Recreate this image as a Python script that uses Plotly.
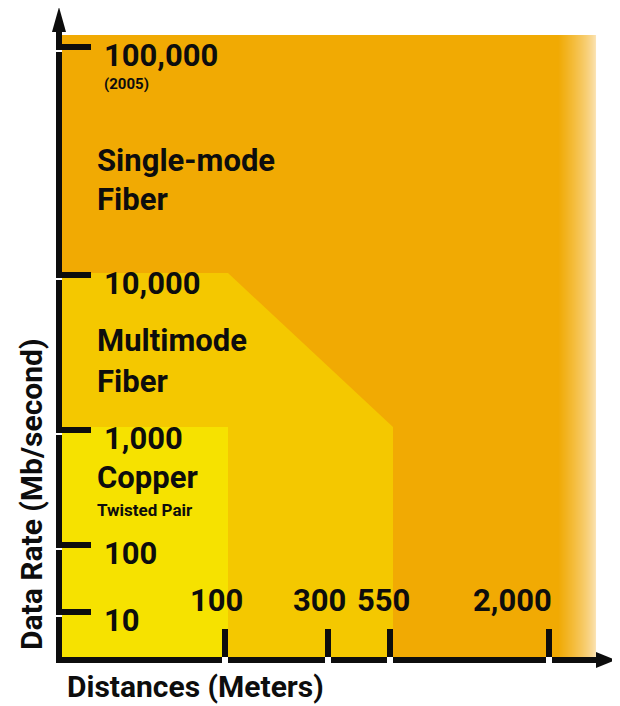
import plotly.graph_objects as go
import numpy as np

# ---------------- data ----------------
distances = [100, 300, 550, 2000]
distance_labels = ["100", "300", "550", "2,000"]
rates = [10, 100, 1000, 10000, 100000]
rate_labels = ["10", "100", "1,000", "10,000", "100,000"]
media = ["Copper", "Multimode", "Single-mode"]
media_subtitles = ["Twisted Pair", "Fiber", "Fiber"]
copper_max = {"rate": 1000, "distance": 100}
multimode_max = {"rate": 10000, "distance_at_max": 100, "rate_far": 1000, "distance_far": 550}
singlemode_max = {"rate": 100000, "distance": 2000}

# ---------------- schematic axis layout (non-metric diagram) ----------------
W, H = 620, 706
PAGE_MARGIN = 8  # default body margin of the html page
x_tick_pos = [225, 328, 390, 549]
y_tick_pos = [612, 545, 430, 275, 47]
X0, Y0 = 59, 660  # origin of the axes


def px(d):
    return x_tick_pos[distances.index(d)]


def py(r):
    return y_tick_pos[rates.index(r)]


ORANGE = "#F1AA03"
AMBER = "#F4C800"
YELLOW = "#F6E200"
INK = "#0d0d0d"
FONT = "Roboto, Liberation Sans, Arial, sans-serif"

shapes = []

# Single-mode region
sm_right = px(singlemode_max["distance"]) + 9
sm_top = py(singlemode_max["rate"]) - 12
shapes.append(dict(type="rect", x0=X0, x1=sm_right, y0=sm_top, y1=Y0,
                   fillcolor=ORANGE, line_width=0, layer="below"))
# fade-out gradient to the right
c0 = np.array([0xF1, 0xAA, 0x03])
c1 = np.array([0xFC, 0xE6, 0xBC])
steps = 38
for i in range(steps):
    t = (i + 0.5) / steps
    c = (c0 * (1 - t) ** 0.7 + c1 * (1 - (1 - t) ** 0.7)).astype(int)
    shapes.append(dict(type="rect", x0=sm_right + i, x1=sm_right + i + 1.05,
                       y0=sm_top, y1=Y0, fillcolor="rgb(%d,%d,%d)" % tuple(c),
                       line_width=0, layer="below"))

# Multimode region
mx1 = px(multimode_max["distance_at_max"]) + 3
my1 = py(multimode_max["rate"]) - 2
mx2 = px(multimode_max["distance_far"]) + 3
my2 = py(multimode_max["rate_far"]) - 3
shapes.append(dict(type="path",
                   path=f"M {X0} {my1} L {mx1} {my1} L {mx2} {my2} L {mx2} {Y0} L {X0} {Y0} Z",
                   fillcolor=AMBER, line_width=0, layer="below"))

# Copper region
cx = px(copper_max["distance"]) + 3
cy = py(copper_max["rate"]) - 3
shapes.append(dict(type="rect", x0=X0, x1=cx, y0=cy, y1=Y0,
                   fillcolor=YELLOW, line_width=0, layer="below"))

# Axes lines
shapes.append(dict(type="line", x0=X0, x1=X0, y0=Y0 + 3, y1=28,
                   line=dict(color=INK, width=6)))
shapes.append(dict(type="line", x0=X0 - 3, x1=600, y0=Y0, y1=Y0,
                   line=dict(color=INK, width=6)))
# arrow heads
shapes.append(dict(type="path", path=f"M {X0} 7 L {X0-7} 32 L {X0+7} 32 Z",
                   fillcolor=INK, line_width=0))
shapes.append(dict(type="path", path=f"M 616 {Y0} L 596 {Y0-8} L 596 {Y0+8} Z",
                   fillcolor=INK, line_width=0))

# y ticks
for r in rates:
    y = py(r)
    shapes.append(dict(type="line", x0=X0 + 2, x1=91, y0=y, y1=y,
                       line=dict(color=INK, width=6)))
    shapes.append(dict(type="rect", x0=X0 - 4, x1=X0 + 3, y0=y + 3, y1=y + 5,
                       fillcolor="white", line_width=0))
# x ticks
for d in distances:
    x = px(d)
    shapes.append(dict(type="line", x0=x, x1=x, y0=629, y1=Y0 - 3,
                       line=dict(color=INK, width=6)))
    shapes.append(dict(type="rect", x0=x - 3, x1=x + 3, y0=Y0 - 3, y1=Y0 + 4,
                       fillcolor="white", line_width=0))

annotations = []


def txt(x, y, s, size, xanchor="left", angle=0, yanchor="middle"):
    annotations.append(dict(x=x, y=y, xref="x", yref="y", text=s, showarrow=False,
                            xanchor=xanchor, yanchor=yanchor, textangle=angle,
                            borderpad=0,
                            font=dict(family=FONT, size=size, color=INK)))


# y tick labels
for r, lab in zip(rates, rate_labels):
    txt(103, py(r) + 8, "<b>%s</b>" % lab, 31)
txt(103, py(100000) + 37, "<b>(2005)</b>", 15)

# x tick labels
x_label_right = {100: 244, 300: 347, 550: 411, 2000: 553}
for d, lab in zip(distances, distance_labels):
    txt(x_label_right[d], 600, "<b>%s</b>" % lab, 31, xanchor="right")

# media labels
txt(96, 160, "<b>%s</b>" % media[2], 31)
txt(96, 199, "<b>%s</b>" % media_subtitles[2], 31)
txt(96, 340, "<b>%s</b>" % media[1], 31)
txt(96, 381, "<b>%s</b>" % media_subtitles[1], 31)
txt(96, 477, "<b>%s</b>" % media[0], 31)
txt(96, 510, "<b>%s</b>" % media_subtitles[0], 17)

# axis titles
txt(195, H - 1, "<b>Distances (Meters)</b>", 30, xanchor="center", yanchor="bottom")
txt(31, 495, "<b>Data Rate (Mb/second)</b>", 30, xanchor="center", angle=-90)

fig = go.Figure()
fig.add_trace(go.Scatter(x=[X0], y=[Y0], mode="markers",
                         marker=dict(size=1, color="rgba(0,0,0,0)"),
                         hoverinfo="skip", showlegend=False))
fig.update_layout(
    width=W - PAGE_MARGIN, height=H - PAGE_MARGIN,
    margin=dict(l=0, r=0, t=0, b=0),
    paper_bgcolor="white", plot_bgcolor="white",
    shapes=shapes, annotations=annotations,
    xaxis=dict(range=[PAGE_MARGIN, W], visible=False, fixedrange=True),
    yaxis=dict(range=[H, PAGE_MARGIN], visible=False, fixedrange=True),
    showlegend=False,
)
fig.write_html("out.html")
